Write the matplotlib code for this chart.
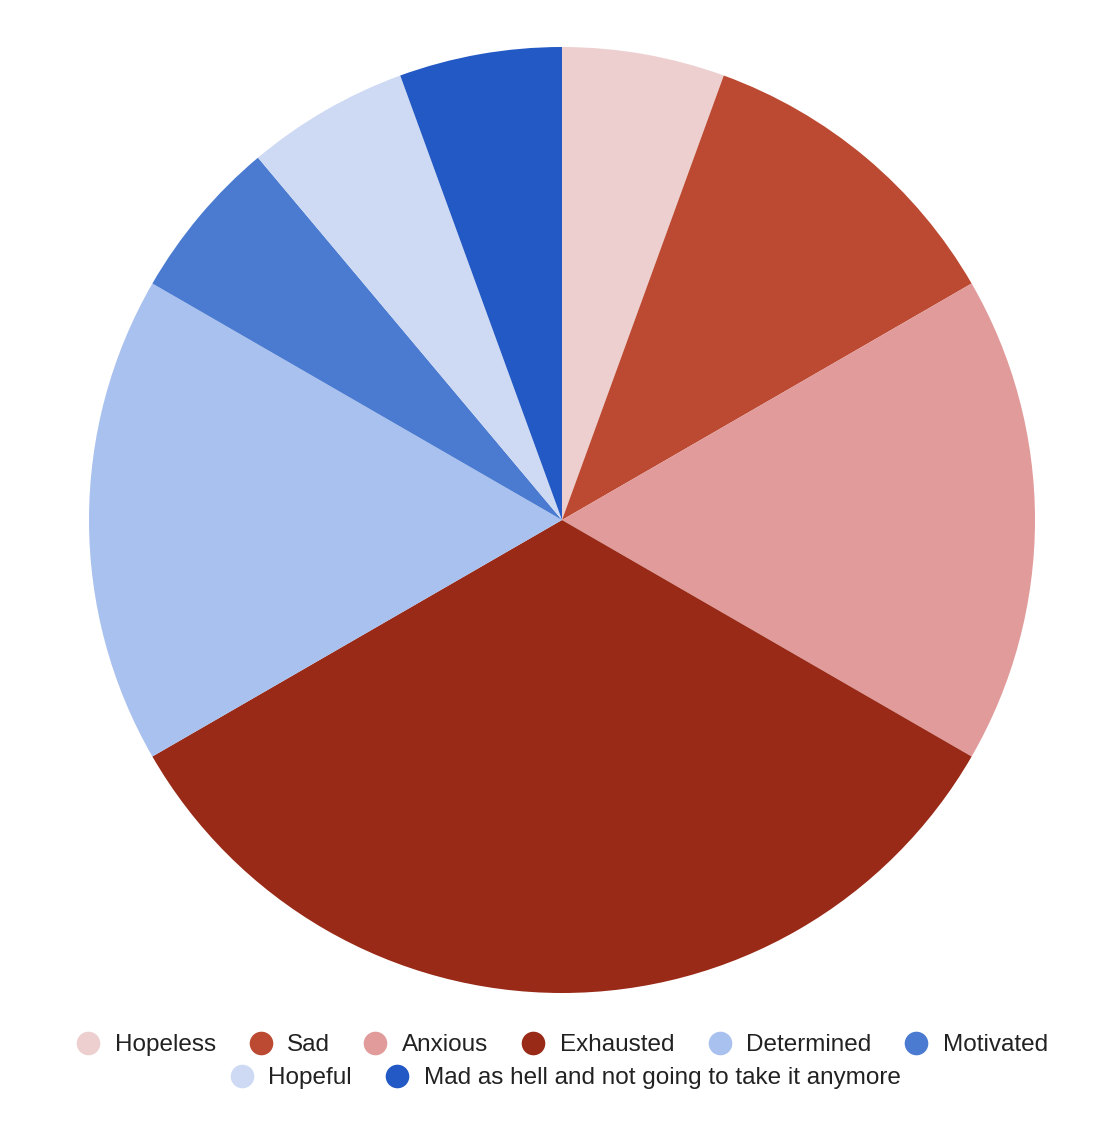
import matplotlib.pyplot as plt
from matplotlib.lines import Line2D

plt.rcParams['font.family'] = ['Liberation Sans', 'DejaVu Sans']

# Mood shares, clockwise from 12 o'clock
labels = ['Hopeless', 'Sad', 'Anxious', 'Exhausted', 'Determined', 'Motivated',
          'Hopeful', 'Mad as hell and not going to take it anymore']
values = [1, 2, 3, 6, 3, 1, 1, 1]
colors = ['#EDCFCF', '#BC4A32', '#E09B9A', '#992A17', '#A9C1EE', '#4A7BD1',
          '#CEDAF4', '#2359C4']

W, H = 1108, 1136
fig = plt.figure(figsize=(W / 100, H / 100), dpi=100)

# pie centre (562, 520) px, radius 473 px
cx, cy, r = 562, 520, 473
ax = fig.add_axes([(cx - r) / W, (H - cy - r) / H, 2 * r / W, 2 * r / H])
ax.pie(values, colors=colors, startangle=90, counterclock=False, radius=1,
       wedgeprops=dict(linewidth=0))
ax.set_xlim(-1, 1)
ax.set_ylim(-1, 1)
ax.set_aspect('equal')
ax.axis('off')


def handles(idx):
    return [Line2D([], [], marker='o', linestyle='', markersize=17,
                   markerfacecolor=colors[i], markeredgewidth=0) for i in idx]


legend_style = dict(frameon=False, fontsize=17.5, handletextpad=0.6,
                    columnspacing=1.35, handlelength=1.0, labelcolor='#222222',
                    borderpad=0, borderaxespad=0)

row1 = list(range(6))
row2 = [6, 7]
fig.legend(handles(row1), [labels[i] for i in row1], ncol=6, loc='center',
           bbox_to_anchor=(562 / W, 1 - 1045 / H), **legend_style)
fig.legend(handles(row2), [labels[i] for i in row2], ncol=2, loc='center',
           bbox_to_anchor=(565 / W, 1 - 1078 / H), **legend_style)

fig.savefig('out.png', dpi=100)
